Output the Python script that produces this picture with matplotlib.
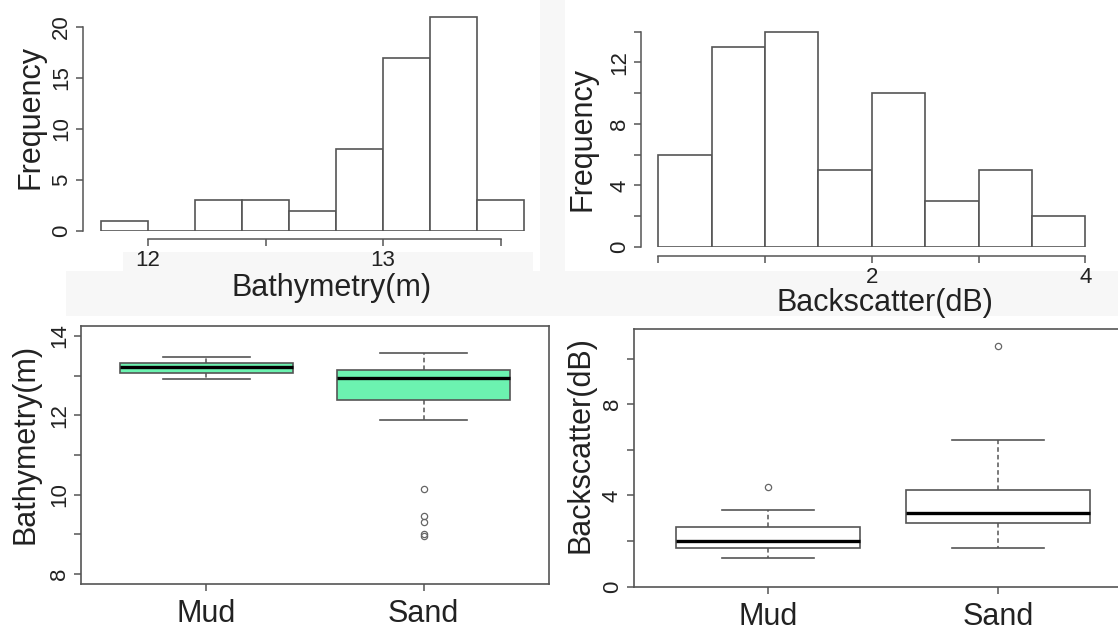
import matplotlib
matplotlib.use("Agg")
import matplotlib.pyplot as plt
from matplotlib.patches import Rectangle

plt.rcParams['font.family'] = ['Liberation Sans', 'DejaVu Sans']

# ---------------- data ----------------
bathy_bin_edges = [11.8, 12.0, 12.2, 12.4, 12.6, 12.8, 13.0, 13.2, 13.4, 13.6]
bathy_counts = [1, 0, 3, 3, 2, 8, 17, 21, 3]
bathy_xticks = [12, 12.5, 13, 13.5]
bathy_xticklabels = ['12', '', '13', '']
bathy_yticks = [0, 5, 10, 15, 20]

bs_bin_edges = [0, 0.5, 1.0, 1.5, 2.0, 2.5, 3.0, 3.5, 4.0]
bs_counts = [6, 13, 14, 5, 10, 3, 5, 2]
bs_xticks = [0, 1, 2, 3, 4]
bs_xticklabels = ['', '', '2', '', '4']
bs_yticks = [0, 2, 4, 6, 8, 10, 12, 14]
bs_yticklabels = ['0', '', '4', '', '8', '', '12', '']

categories = ['Mud', 'Sand']
# boxplot statistics: whislo, q1, med, q3, whishi
bathy_box_whislo = [12.92, 11.89]
bathy_box_q1 = [13.06, 12.38]
bathy_box_med = [13.21, 12.94]
bathy_box_q3 = [13.33, 13.14]
bathy_box_whishi = [13.48, 13.57]
bathy_box_fliers = [[], [10.14, 9.45, 9.31, 9.01, 8.96]]
bathy_box_yticks = [8, 9, 10, 11, 12, 13, 14]
bathy_box_yticklabels = ['8', '', '10', '', '12', '', '14']

bs_box_whislo = [1.26, 1.68]
bs_box_q1 = [1.71, 2.79]
bs_box_med = [1.99, 3.22]
bs_box_q3 = [2.59, 4.24]
bs_box_whishi = [3.36, 6.42]
bs_box_fliers = [[4.36], [10.54]]
bs_box_yticks = [0, 2, 4, 6, 8, 10]
bs_box_yticklabels = ['0', '', '4', '', '8', '']

# ---------------- layout helpers ----------------
W, H = 1118, 634
fig = plt.figure(figsize=(W / 100, H / 100), dpi=100)
fig.patch.set_facecolor('white')

def px_axes(x0, y0, x1, y1):
    return fig.add_axes([x0 / W, 1 - y1 / H, (x1 - x0) / W, (y1 - y0) / H])

def ftext(x, y, s, **kw):
    fig.text(x / W, 1 - y / H, s, ha='center', va='center', **kw)

LC = '#555555'
TXT = '#222222'
TICK_FS = 16
LAB_FS = 22

# light gray background strips (from the composite)
for (x0, y0, x1, y1) in [(66, 271, 1118, 316), (123, 252, 533, 271), (540, 0, 565, 271)]:
    fig.patches.append(Rectangle((x0 / W, 1 - y1 / H), (x1 - x0) / W, (y1 - y0) / H,
                                 transform=fig.transFigure, facecolor='#f7f7f7',
                                 edgecolor='none', zorder=-5))

def style_hist_axes(ax):
    ax.set_facecolor('none')
    for s in ['top', 'right']:
        ax.spines[s].set_visible(False)
    for s in ['left', 'bottom']:
        ax.spines[s].set_color(LC)
        ax.spines[s].set_linewidth(1.1)
    ax.tick_params(axis='both', direction='out', length=5, width=1.1, color=LC,
                   labelsize=TICK_FS, labelcolor=TXT)
    ax.tick_params(axis='y', pad=3)
    ax.tick_params(axis='x', pad=3)

# ---------------- top-left histogram ----------------
ax1 = px_axes(83, 10, 540, 231)
widths = [bathy_bin_edges[i + 1] - bathy_bin_edges[i] for i in range(len(bathy_counts))]
ax1.bar(bathy_bin_edges[:-1], bathy_counts, width=widths, align='edge',
        facecolor='white', edgecolor=LC, linewidth=1.2)
ax1.set_xlim(11.7234, 13.668)
ax1.set_ylim(0, 21.67)
style_hist_axes(ax1)
ax1.spines['left'].set_bounds(0, 20)
ax1.spines['bottom'].set_bounds(12, 13.5)
ax1.spines['bottom'].set_position(('outward', 5.8))
ax1.set_xticks(bathy_xticks)
ax1.set_xticklabels(bathy_xticklabels)
ax1.set_yticks(bathy_yticks)
ax1.set_yticklabels([str(v) for v in bathy_yticks], rotation=90, va='center')
ftext(332, 288, 'Bathymetry(m)', fontsize=LAB_FS, color=TXT)
ftext(31, 117, 'Frequency', fontsize=LAB_FS, color=TXT, rotation=90)

# ---------------- top-right histogram ----------------
ax2 = px_axes(641.4, 20, 1100, 247)
widths2 = [bs_bin_edges[i + 1] - bs_bin_edges[i] for i in range(len(bs_counts))]
ax2.bar(bs_bin_edges[:-1], bs_counts, width=widths2, align='edge',
        facecolor='white', edgecolor=LC, linewidth=1.2)
ax2.set_xlim(-0.157, 4.137)
ax2.set_ylim(0, 14.76)
style_hist_axes(ax2)
ax2.spines['left'].set_bounds(0, 14)
ax2.spines['bottom'].set_bounds(0, 4)
ax2.spines['bottom'].set_position(('outward', 6.5))
ax2.set_xticks(bs_xticks)
ax2.set_xticklabels(bs_xticklabels)
ax2.set_yticks(bs_yticks)
ax2.set_yticklabels(bs_yticklabels, rotation=90, va='center')
ftext(885, 303, 'Backscatter(dB)', fontsize=LAB_FS, color=TXT)
ftext(583, 139, 'Frequency', fontsize=LAB_FS, color=TXT, rotation=90)

# ---------------- boxplots ----------------
def make_stats(lo, q1, med, q3, hi, fl):
    return [dict(whislo=lo[i], q1=q1[i], med=med[i], q3=q3[i], whishi=hi[i],
                 fliers=fl[i], label=categories[i]) for i in range(len(categories))]

def draw_box(ax, stats, fill):
    bp = ax.bxp(stats, positions=[1, 2], widths=0.8, capwidths=0.4,
                patch_artist=True, showfliers=True,
                boxprops=dict(facecolor=fill, edgecolor=LC, linewidth=1.2),
                medianprops=dict(color='black', linewidth=2.4),
                whiskerprops=dict(color=LC, linewidth=1.1, linestyle=(0, (3, 2))),
                capprops=dict(color=LC, linewidth=1.2),
                flierprops=dict(marker='o', markerfacecolor='none',
                                markeredgecolor='#666666', markersize=4.5,
                                markeredgewidth=0.9))
    ax.set_facecolor('none')
    for s in ax.spines.values():
        s.set_color(LC)
        s.set_linewidth(1.2)
    ax.tick_params(axis='both', direction='out', length=5, width=1.1, color=LC,
                   labelcolor=TXT)
    ax.tick_params(axis='y', labelsize=TICK_FS, pad=3)
    ax.tick_params(axis='x', labelsize=LAB_FS, pad=6)
    ax.set_xticks([1, 2])
    ax.set_xticklabels(categories)
    return bp

ax3 = px_axes(81, 325.7, 549, 584)
draw_box(ax3, make_stats(bathy_box_whislo, bathy_box_q1, bathy_box_med,
                         bathy_box_q3, bathy_box_whishi, bathy_box_fliers), '#6cf2b0')
ax3.set_xlim(0.422, 2.578)
ax3.set_ylim(7.748, 14.26)
ax3.set_yticks(bathy_box_yticks)
ax3.set_yticklabels(bathy_box_yticklabels, rotation=90, va='center')
ftext(26, 444, 'Bathymetry(m)', fontsize=LAB_FS, color=TXT, rotation=90)

ax4 = px_axes(634, 329, 1131.8, 586.5)
draw_box(ax4, make_stats(bs_box_whislo, bs_box_q1, bs_box_med,
                         bs_box_q3, bs_box_whishi, bs_box_fliers), 'white')
ax4.set_xlim(0.419, 2.581)
ax4.set_ylim(0.0, 11.3)
ax4.set_yticks(bs_box_yticks)
ax4.set_yticklabels(bs_box_yticklabels, rotation=90, va='center')
ftext(580, 445, 'Backscatter(dB)', fontsize=LAB_FS, color=TXT, rotation=90)

fig.savefig('out.png', dpi=100)
